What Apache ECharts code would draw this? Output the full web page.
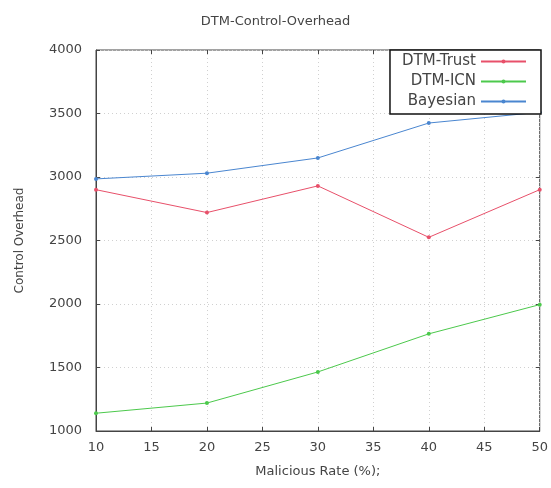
<!DOCTYPE html>
<html><head><meta charset="utf-8">
<script src="https://cdn.jsdelivr.net/npm/echarts@6/dist/echarts.min.js"></script>
<style>html,body{margin:0;padding:0;background:#fff}#c{width:551px;height:488px}</style>
</head><body><div id="c"></div>
<script>
const xValues = [10, 20, 30, 40, 50];
const dtmTrust = [2900, 2720, 2930, 2525, 2900];
const dtmIcn = [1140, 1220, 1465, 1765, 1995];
const bayesian = [2985, 3030, 3150, 3425, 3510];
const seriesNames = ['DTM-Trust', 'DTM-ICN', 'Bayesian'];
const colors = ['#e8506a', '#4cc94c', '#4a86d0'];

const pairs = arr => xValues.map((x, i) => [x, arr[i]]);
const font = 'DejaVu Sans';
const chart = echarts.init(document.getElementById('c'));
const grid = {left: 96, right: 10, top: 50, bottom: 57, show: true, borderColor: '#444', borderWidth: 1};
const gridLine = {show: true, lineStyle: {color: '#d0d0d0', type: [1, 3], width: 1}};
chart.setOption({
  animation: false,
  backgroundColor: '#fff',
  title: {text: 'DTM-Control-Overhead', left: 'center', top: 10,
    textStyle: {fontFamily: font, fontSize: 13, fontWeight: 'normal', color: '#444'}},
  grid: grid,
  legend: {
    orient: 'vertical', right: 10, top: 50, align: 'right',
    data: seriesNames,
    backgroundColor: '#fff', borderColor: '#111', borderWidth: 1.5,
    padding: [4, 14, 5, 12], itemGap: 5, itemWidth: 45, itemHeight: 5,
    textStyle: {fontFamily: font, fontSize: 15, color: '#444'}
  },
  xAxis: [{
    type: 'value', min: 10, max: 50, interval: 5,
    name: 'Malicious Rate (%);', nameLocation: 'middle', nameGap: 34,
    nameTextStyle: {fontFamily: font, fontSize: 13, color: '#444'},
    axisLine: {show: true, lineStyle: {color: '#444'}},
    axisTick: {inside: true, length: 4, lineStyle: {color: '#444'}},
    axisLabel: {fontFamily: font, fontSize: 13, color: '#444', margin: 10},
    splitLine: gridLine
  }, {
    type: 'value', min: 10, max: 50, interval: 5, position: 'top',
    axisLine: {show: false}, axisTick: {inside: true, length: 4, lineStyle: {color: '#444'}},
    axisLabel: {show: false}, splitLine: {show: false}
  }],
  yAxis: [{
    type: 'value', min: 1000, max: 4000, interval: 500,
    name: 'Control Overhead', nameLocation: 'middle', nameGap: 70,
    nameTextStyle: {fontFamily: font, fontSize: 12, color: '#444'},
    axisLine: {show: true, lineStyle: {color: '#444'}},
    axisTick: {inside: true, length: 4, lineStyle: {color: '#444'}},
    axisLabel: {fontFamily: font, fontSize: 13, color: '#444', margin: 14, formatter: v => String(v)},
    splitLine: gridLine
  }, {
    type: 'value', min: 1000, max: 4000, interval: 500, position: 'right',
    axisLine: {show: false}, axisTick: {inside: true, length: 4, lineStyle: {color: '#444'}},
    axisLabel: {show: false}, splitLine: {show: false}
  }],
  series: [dtmTrust, dtmIcn, bayesian].map((d, i) => ({
    name: seriesNames[i], type: 'line', data: pairs(d),
    symbol: 'circle', symbolSize: 4,
    itemStyle: {color: colors[i]},
    lineStyle: {color: colors[i], width: 1}
  }))
});
</script></body></html>
